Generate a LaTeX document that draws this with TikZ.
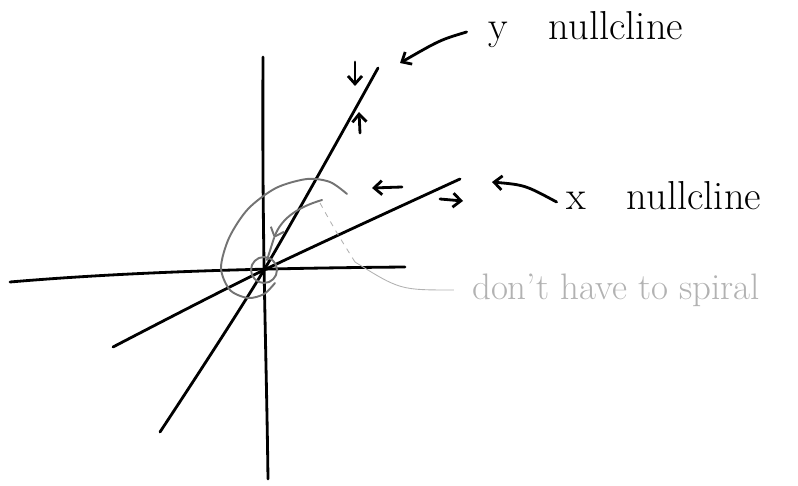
\documentclass[tikz,border=0pt]{standalone}
\usepackage{tikz}
\usetikzlibrary{positioning,calc,arrows.meta}
\colorlet{sketchGray}{gray!90!black}
\colorlet{lightGray}{gray!60}

\begin{document}
\begin{tikzpicture}[x=0.02cm, y=-0.02cm, >={Straight Barb[length=4.5pt, width=8pt]},
    ink/.style={line width=1.6pt, line cap=round},
    pencil/.style={line width=1.1pt, color=sketchGray, line cap=round},
    hint/.style={line width=0.5pt, color=lightGray},
    note/.style={font=\fontsize{23}{27}\selectfont, inner sep=0pt},
    remark/.style={font=\fontsize{21}{25}\selectfont, text=lightGray, inner sep=0pt}]
    \useasboundingbox (0,0) rectangle (798,486);

    % Axes
    \coordinate (origin) at (264,270);
    \coordinate (yTop) at (263,57);
    \coordinate (yBottom) at (268,479);
    \coordinate (xLeft) at (10,282);
    \coordinate (xRight) at (405,267);
    \draw[ink] (yTop) .. controls (262,250) and (266,330) .. (yBottom);
    \draw[ink] (xLeft) .. controls (150,270) and (300,268) .. (xRight);

    % Nullclines
    \coordinate (yncLow) at (160,432);
    \coordinate (yncHigh) at (378,68);
    \coordinate (xncLow) at (113,347);
    \coordinate (xncHigh) at (460,179);
    \draw[ink] plot[smooth] coordinates {(yncLow) (origin) (yncHigh)};
    \draw[ink] plot[smooth] coordinates {(xncLow) (origin) (xncHigh)};

    % Labels
    \node[note] (ylabel) at (586,30) {y\quad nullcline};
    \node[note] (xlabel) at (664,196) {x\quad nullcline};
    \node[remark] (spiral) at (616,290) {don't have to spiral};

    % Pointers from labels
    \coordinate (ytip) at (400,63);
    \coordinate (xtip) at (492,182);
    \draw[ink, ->] (ylabel.west) ++(-22,2) .. controls (440,40) .. (ytip);
    \draw[ink, ->] (xlabel.west) ++(-10,6) .. controls (525,185) .. (xtip);

    % Flow direction marks
    \coordinate (dA) at (355,62);
    \coordinate (dB) at (355,86);
    \coordinate (uA) at (360,133);
    \coordinate (uB) at (359,112);
    \coordinate (lA) at (402,187);
    \coordinate (lB) at (372,188);
    \coordinate (rA) at (440,199);
    \coordinate (rB) at (463,201);
    \draw[ink, ->] (dA) -- (dB);
    \draw[ink, ->] (uA) -- (uB);
    \draw[ink, ->] (lA) -- (lB);
    \draw[ink, ->] (rA) -- (rB);

    % Trajectories near the equilibrium
    \draw[pencil] (origin) circle (13);
    \draw[pencil] plot[smooth] coordinates {(347,194) (330,182) (307,179) (276,188) (248,209) (229,238) (221,268) (230,290) (248,298) (264,294) (275,283)};
    \draw[pencil, ->] (322,200) .. controls (295,208) and (281,220) .. (274,238);
    \draw[pencil] (274,238) -- (267,260);

    % Note pointer
    \coordinate (bend) at (355,262);
    \draw[hint] (spiral.west) ++(-18,0) .. controls (400,290) .. (bend);
    \draw[hint, dashed] (bend) .. controls (335,230) .. (320,203);
\end{tikzpicture}
\end{document}
